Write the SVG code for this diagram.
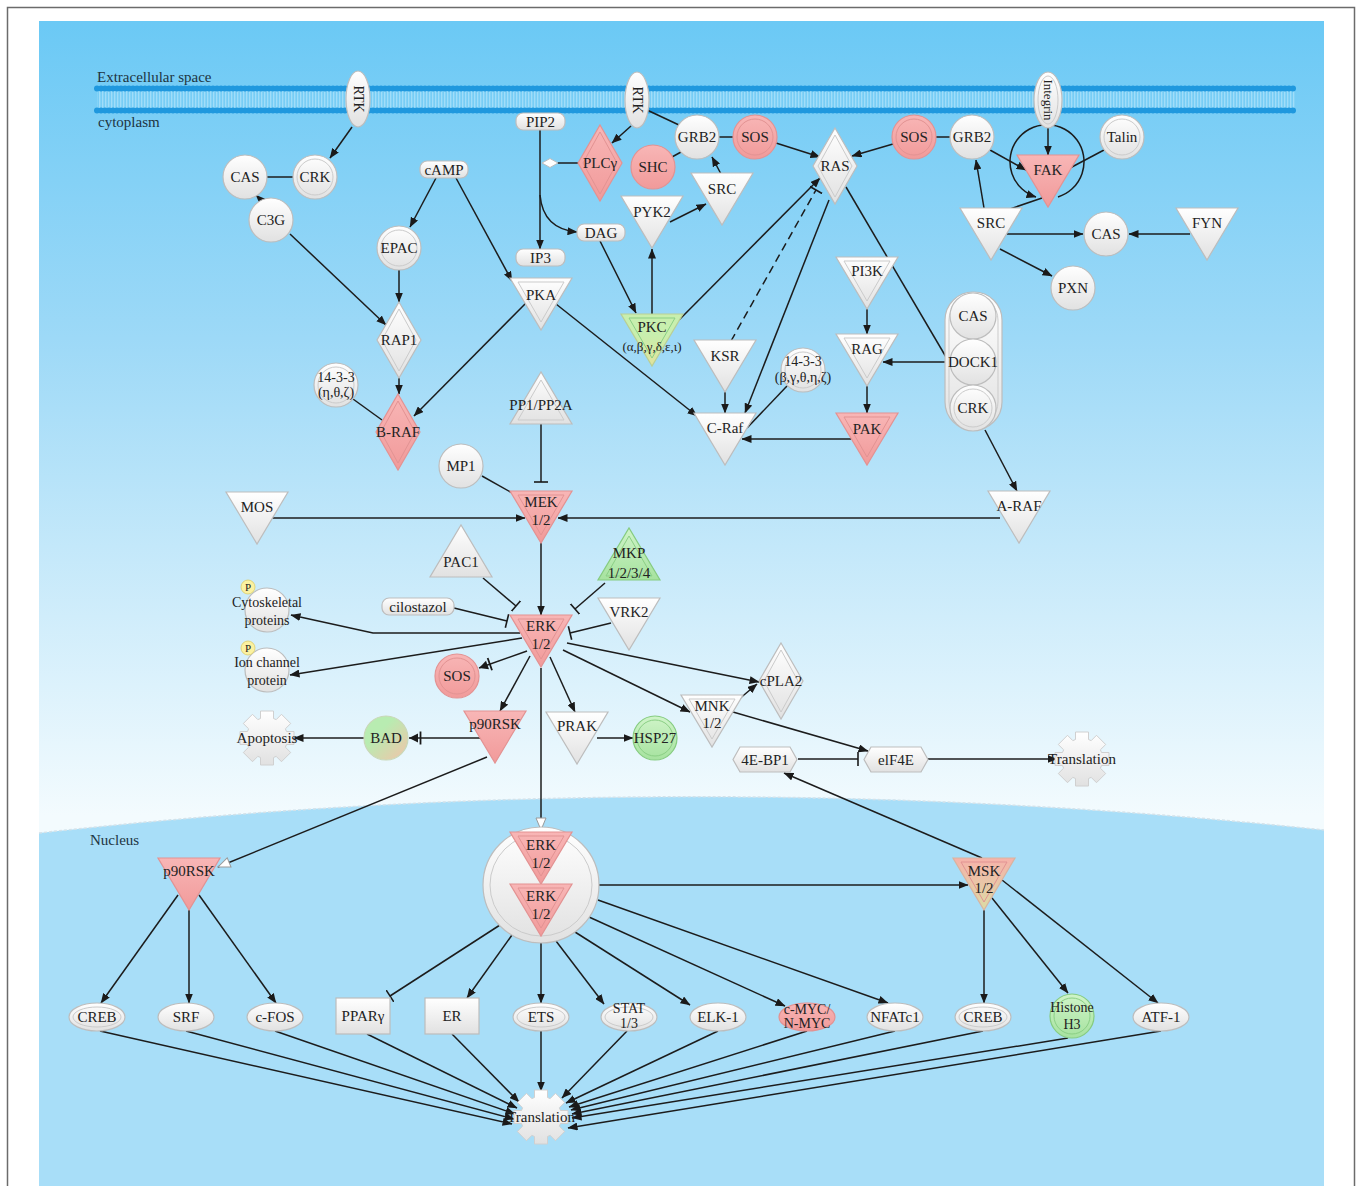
<svg xmlns="http://www.w3.org/2000/svg" width="1357" height="1186" viewBox="0 0 1357 1186">
<defs>
  <linearGradient id="sky" gradientUnits="userSpaceOnUse" x1="0" y1="21" x2="0" y2="815">
    <stop offset="0" stop-color="#6bc9f5"/>
    <stop offset="0.4" stop-color="#9dd9f7"/>
    <stop offset="0.75" stop-color="#d0edfb"/>
    <stop offset="1" stop-color="#f3fbfe"/>
  </linearGradient>
  <linearGradient id="gw" x1="0" y1="0" x2="0" y2="1">
    <stop offset="0" stop-color="#ffffff"/>
    <stop offset="1" stop-color="#e1e1e1"/>
  </linearGradient>
  <linearGradient id="gr" x1="0" y1="0" x2="0" y2="1">
    <stop offset="0" stop-color="#f8b6b6"/>
    <stop offset="1" stop-color="#f19a9a"/>
  </linearGradient>
  <linearGradient id="gg" x1="0" y1="0" x2="0" y2="1">
    <stop offset="0" stop-color="#cff4c8"/>
    <stop offset="1" stop-color="#a6e29f"/>
  </linearGradient>
  <linearGradient id="gbad" x1="0" y1="0" x2="1" y2="1">
    <stop offset="0.35" stop-color="#b8ecb1"/>
    <stop offset="1" stop-color="#f3c2a8"/>
  </linearGradient>
  <linearGradient id="gmsk" x1="0" y1="0" x2="0" y2="1">
    <stop offset="0" stop-color="#f6b2aa"/>
    <stop offset="1" stop-color="#dcdca4"/>
  </linearGradient>
  <linearGradient id="gpkc" x1="0" y1="0" x2="0" y2="1">
    <stop offset="0.4" stop-color="#c8efae"/>
    <stop offset="1" stop-color="#e2e39c"/>
  </linearGradient>
  <pattern id="lip" width="3" height="20" patternUnits="userSpaceOnUse">
    <rect width="1.3" height="20" fill="#b3e4fb" opacity="0.7"/>
  </pattern>

  <!-- shape library, origin = top centre for triangles, centre otherwise -->
  <path id="tri" d="M-31,0 H31 L0,52 Z"/>
  <path id="tri-in" d="M-23,4 H23 L0,44 Z"/>
  <path id="utri" d="M-31,52 H31 L0,0 Z"/>
  <path id="utri-in" d="M-23,48 H23 L0,8 Z"/>
  <path id="dia" d="M0,-38 L22,0 L0,38 L-22,0 Z"/>
  <path id="dia-in" d="M0,-31 L17,0 L0,31 L-17,0 Z"/>
  <path id="hex" d="M-32,0 L-25,-12.5 H25 L32,0 L25,12.5 H-25 Z"/>
  <path id="gear" d="M19.5,-6.5 L27,-6.5 L27,6.5 L19.5,6.5 L18.39,9.19 L23.69,14.49 L14.49,23.69 L9.19,18.39 L6.5,19.5 L6.5,27 L-6.5,27 L-6.5,19.5 L-9.19,18.39 L-14.49,23.69 L-23.69,14.49 L-18.39,9.19 L-19.5,6.5 L-27,6.5 L-27,-6.5 L-19.5,-6.5 L-18.39,-9.19 L-23.69,-14.49 L-14.49,-23.69 L-9.19,-18.39 L-6.5,-19.5 L-6.5,-27 L6.5,-27 L6.5,-19.5 L9.19,-18.39 L14.49,-23.69 L23.69,-14.49 L18.39,-9.19 Z"/>

  <marker id="ah" markerUnits="userSpaceOnUse" markerWidth="10" markerHeight="8" refX="9.5" refY="4" orient="auto" viewBox="0 0 10 8">
    <path d="M0,0 L10,4 L0,8 Z" fill="#1a1a1a"/>
  </marker>
  <marker id="ao" markerUnits="userSpaceOnUse" markerWidth="14" markerHeight="12" refX="13" refY="6" orient="auto" viewBox="0 0 14 12">
    <path d="M1,1 L13,6 L1,11 Z" fill="#ffffff" stroke="#9a9a9a" stroke-width="1"/>
  </marker>
  <marker id="tb" markerUnits="userSpaceOnUse" markerWidth="4" markerHeight="14" refX="2" refY="7" orient="auto" viewBox="0 0 4 14">
    <path d="M2,0 V14" stroke="#1a1a1a" stroke-width="1.6"/>
  </marker>
  <marker id="tr" markerUnits="userSpaceOnUse" markerWidth="14" markerHeight="14" refX="13" refY="7" orient="auto" viewBox="0 0 14 14">
    <path d="M4,2.5 L13,7 L4,11.5 Z" fill="#1a1a1a"/>
    <path d="M1.5,0.5 V13.5" stroke="#1a1a1a" stroke-width="1.8"/>
  </marker>
</defs>
<style>
  .n{fill:url(#gw);stroke:#bdbdbd;stroke-width:1.2}
  .r{fill:url(#gr);stroke:#e39292;stroke-width:1.2}
  .g{fill:url(#gg);stroke:#86cc80;stroke-width:1.2}
  .i{fill:none;stroke:#cbcbcb;stroke-width:1}
  .ir{fill:none;stroke:#e29393;stroke-width:1}
  .ig{fill:none;stroke:#8bcf85;stroke-width:1}
  .gear{fill:url(#gw);stroke:#d0d0d0;stroke-width:1;stroke-linejoin:round}
  .t{font-family:"Liberation Serif","Times New Roman",serif;font-size:15px;fill:#222;text-anchor:middle}
  .s{font-size:14px}
  .xs{font-size:13px}
  .lbl{font-family:"Liberation Serif","Times New Roman",serif;font-size:15px;fill:#1d3441}
  #links path{fill:none;stroke:#1c1c1c;stroke-width:1.5}
  #links .a{marker-end:url(#ah)}
  #links .o{marker-end:url(#ao)}
  #links .b{marker-end:url(#tb)}
  #links .x{marker-end:url(#tr)}
  #links .d{stroke-dasharray:8 5}
  .pb{fill:#fbf1a0;stroke:#dccd6a;stroke-width:0.8}
</style>

<!-- frame and compartments -->
<rect x="7.5" y="7.5" width="1347" height="1200" fill="#ffffff" stroke="#6b6b6b" stroke-width="1.5"/>
<rect x="39" y="21" width="1285" height="1165" fill="url(#sky)"/>
<path d="M39,833 Q681,762 1324,830 L1324,1186 L39,1186 Z" fill="#a8def8"/>
<path d="M39,833 Q681,762 1324,830" fill="none" stroke="#d3e2ea" stroke-width="1.5" stroke-dasharray="3 2"/>

<!-- plasma membrane -->
<g id="membrane">
  <rect x="97" y="90" width="1198" height="19" fill="url(#lip)"/>
  <line x1="97" y1="88.5" x2="1295" y2="88.5" stroke="#1f98de" stroke-width="3.5"/>
  <line x1="97" y1="88.5" x2="1295" y2="88.5" stroke="#1f98de" stroke-width="6" stroke-linecap="round" stroke-dasharray="0 4"/>
  <line x1="97" y1="110.5" x2="1295" y2="110.5" stroke="#1f98de" stroke-width="3.5"/>
  <line x1="97" y1="110.5" x2="1295" y2="110.5" stroke="#1f98de" stroke-width="6" stroke-linecap="round" stroke-dasharray="0 4"/>
</g>
<text class="lbl" x="97" y="82">Extracellular space</text>
<text class="lbl" x="98" y="127">cytoplasm</text>
<text class="lbl" x="90" y="845">Nucleus</text>

<!-- connectors -->
<g id="links">
  <path class="a" d="M352,127 L330,158"/>
  <path d="M267,177 L293,177"/>
  <path class="a" d="M263,202 L256,195"/>
  <path class="a" d="M290,234 L386,325"/>
  <path class="a" d="M436,178 L410,227"/>
  <path class="a" d="M456,178 L512,281"/>
  <path class="a" d="M399,270 L399,302"/>
  <path class="a" d="M399,378 L399,394"/>
  <path d="M353,399 L382,420"/>
  <path class="a" d="M526,303 L414,416"/>
  <path class="a" d="M540,129 L540,249"/>
  <path class="a" d="M540,195 Q543,229 577,232"/>
  <path d="M557,163 L578,163"/>
  <path class="a" d="M631,126 L612,143"/>
  <path d="M647,110 L679,125"/>
  <path d="M719,137 L733,137"/>
  <path d="M681,152 L672,157"/>
  <path class="a" d="M776,143 L820,157"/>
  <path class="a" d="M721,174 L712,157"/>
  <path class="a" d="M670,222 L706,204"/>
  <path class="a" d="M600,241 L636,313"/>
  <path class="a" d="M652,314 L652,249"/>
  <path class="a" d="M679,320 L820,178"/>
  <path class="d b" d="M731,341 L816,190"/>
  <path class="a" d="M725,392 L725,413"/>
  <path class="a" d="M829,200 L745,413"/>
  <path d="M846,187 L946,357"/>
  <path d="M787,386 L747,428"/>
  <path class="a" d="M556,304 L697,416"/>
  <path class="a" d="M867,309 L867,334"/>
  <path class="a" d="M867,386 L867,413"/>
  <path class="a" d="M946,362 L883,362"/>
  <path class="a" d="M851,439 L742,439"/>
  <path class="a" d="M893,144 L852,156"/>
  <path d="M936,137 L950,137"/>
  <path class="a" d="M990,150 L1026,170"/>
  <path class="a" d="M1048,128 L1048,155"/>
  <path d="M1104,150 L1070,168"/>
  <path class="a" d="M984,208 L976,160"/>
  <path d="M1004,211 L1042,198"/>
  <path class="a" d="M1058,197 A37,37 0 1,0 1036,197"/>
  <path class="a" d="M1007,234 L1083,234"/>
  <path class="a" d="M1190,234 L1129,234"/>
  <path class="a" d="M1000,249 L1052,276"/>
  <path class="a" d="M985,430 L1017,491"/>
  <path class="a" d="M1000,518 L558,518"/>
  <path class="a" d="M272,518 L525,518"/>
  <path class="b" d="M541,423 L541,482"/>
  <path d="M482,476 L514,494"/>
  <path class="a" d="M541,543 L541,615"/>
  <path class="b" d="M483,578 L516,606"/>
  <path class="b" d="M454,608 L507,621"/>
  <path class="b" d="M605,583 L575,609"/>
  <path class="b" d="M611,623 L570,633"/>
  <path class="a" d="M520,633 L373,633 L291,615"/>
  <path class="a" d="M522,638 L290,675"/>
  <path class="x" d="M527,651 L479,668"/>
  <path class="a" d="M530,656 L500,711"/>
  <path class="a" d="M550,657 L575,712"/>
  <path class="a" d="M567,643 L759,682"/>
  <path class="a" d="M563,650 L690,712"/>
  <path class="o" d="M541,668 L541,830"/>
  <path class="x" d="M480,738 L409,738"/>
  <path class="a" d="M364,738 L294,738"/>
  <path class="a" d="M597,738 L633,738"/>
  <path class="a" d="M738,700 L757,684"/>
  <path class="a" d="M733,712 L868,751"/>
  <path class="b" d="M798,759 L858,759"/>
  <path class="a" d="M928,759 L1057,759"/>
  <path class="a" d="M982,858 L784,773"/>
  <path class="o" d="M487,757 L218,867"/>
  <path class="a" d="M178,895 L101,1003"/>
  <path class="a" d="M189,910 L189,1003"/>
  <path class="a" d="M199,895 L276,1003"/>
  <path class="a" d="M599,885 L968,885"/>
  <path class="b" d="M500,925 L390,996"/>
  <path class="a" d="M512,935 L467,998"/>
  <path class="a" d="M541,943 L541,1003"/>
  <path class="a" d="M556,941 L604,1004"/>
  <path class="a" d="M575,932 L690,1005"/>
  <path class="a" d="M589,917 L785,1006"/>
  <path class="a" d="M598,900 L888,1003"/>
  <path class="a" d="M984,910 L984,1003"/>
  <path class="a" d="M992,898 L1068,993"/>
  <path class="a" d="M1002,880 L1158,1003"/>
  <path class="a" d="M100,1031 L512,1124"/>
  <path class="a" d="M186,1031 L514,1119"/>
  <path class="a" d="M275,1031 L515,1114"/>
  <path class="a" d="M367,1034 L517,1108"/>
  <path class="a" d="M452,1034 L519,1102"/>
  <path class="a" d="M541,1031 L541,1091"/>
  <path class="a" d="M627,1031 L562,1098"/>
  <path class="a" d="M718,1031 L566,1103"/>
  <path class="a" d="M807,1031 L569,1107"/>
  <path class="a" d="M895,1031 L571,1110"/>
  <path class="a" d="M983,1031 L572,1114"/>
  <path class="a" d="M1068,1038 L572,1118"/>
  <path class="a" d="M1161,1031 L568,1128"/>
</g>

<!-- receptors at the membrane -->
<g id="rtk-1" transform="translate(358,99)"><ellipse rx="12" ry="28" class="n"/><text class="t s" transform="rotate(90)" y="4.5">RTK</text></g>
<g id="rtk-2" transform="translate(637,100)"><ellipse rx="12" ry="28" class="n"/><text class="t s" transform="rotate(90)" y="4.5">RTK</text></g>
<g id="integrin" transform="translate(1048,100)"><ellipse rx="14" ry="28" class="n"/><ellipse rx="10" ry="24" class="i"/><text class="t" style="font-size:13px" transform="rotate(90)" y="4.5">Integrin</text></g>

<!-- left upper branch -->
<g id="cas-1" transform="translate(245,177)"><circle r="22" class="n"/><text class="t" y="5">CAS</text></g>
<g id="crk-1" transform="translate(315,177)"><circle r="22" class="n"/><circle r="18" class="i"/><text class="t" y="5">CRK</text></g>
<g id="c3g" transform="translate(271,220)"><circle r="22" class="n"/><text class="t" y="5">C3G</text></g>
<g id="camp"><rect x="420" y="161" width="48" height="17" rx="7" class="n"/><text class="t" x="444" y="174.5">cAMP</text></g>
<g id="epac" transform="translate(399,248)"><circle r="22" class="n"/><circle r="18" class="i"/><text class="t" y="5">EPAC</text></g>
<g id="rap1" transform="translate(399,340)"><use href="#dia" class="n"/><use href="#dia-in" class="i"/><text class="t" y="5">RAP1</text></g>
<g id="p1433-a" transform="translate(336,385)"><circle r="22" class="n"/><circle r="18" class="i"/><text class="t s" y="-3">14-3-3</text><text class="t s" y="12">(η,θ,ζ)</text></g>
<g id="b-raf" transform="translate(398,432)"><use href="#dia" class="r"/><use href="#dia-in" class="ir"/><text class="t" y="5">B-RAF</text></g>

<!-- PLC / PKC / RAS area -->
<g id="pip2"><rect x="516" y="113" width="49" height="17" rx="7" class="n"/><text class="t" x="540.5" y="126.5">PIP2</text></g>
<g id="ip3"><rect x="516" y="249" width="49" height="17" rx="7" class="n"/><text class="t" x="540.5" y="262.5">IP3</text></g>
<g id="dag"><rect x="577" y="224" width="48" height="17" rx="7" class="n"/><text class="t" x="601" y="237.5">DAG</text></g>
<g id="pip2-cleavage"><path d="M542,163 L550,158.5 L558,163 L550,167.5 Z" fill="#ffffff" stroke="#bdbdbd"/></g>
<g id="plcg" transform="translate(600,163)"><use href="#dia" class="r"/><use href="#dia-in" class="ir"/><text class="t" y="5">PLCγ</text></g>
<g id="shc" transform="translate(653,167)"><circle r="22" class="r"/><text class="t" y="5">SHC</text></g>
<g id="grb2-1" transform="translate(697,137)"><circle r="22" class="n"/><text class="t" y="5">GRB2</text></g>
<g id="sos-1" transform="translate(755,137)"><circle r="22" class="r"/><circle r="18" class="ir"/><text class="t" y="5">SOS</text></g>
<g id="src-1" transform="translate(722,173)"><use href="#tri" class="n"/><text class="t" y="21">SRC</text></g>
<g id="pyk2" transform="translate(652,196)"><use href="#tri" class="n"/><text class="t" y="21">PYK2</text></g>
<g id="pkc" transform="translate(652,314)"><use href="#tri" style="fill:url(#gpkc);stroke:#b9cf95;stroke-width:1.2"/><use href="#tri-in" class="ig"/><text class="t" y="18">PKC</text><text class="t xs" y="37">(α,β,γ,δ,ε,ι)</text></g>
<g id="ras" transform="translate(835,166)"><use href="#dia" class="n"/><use href="#dia-in" class="i"/><text class="t" y="5">RAS</text></g>
<g id="pka" transform="translate(541,278)"><use href="#tri" class="n"/><use href="#tri-in" class="i"/><text class="t" y="22">PKA</text></g>
<g id="ksr" transform="translate(725,340)"><use href="#tri" class="n"/><text class="t" y="21">KSR</text></g>
<g id="c-raf" transform="translate(725,413)"><use href="#tri" class="n"/><text class="t" y="20">C-Raf</text></g>
<g id="p1433-b" transform="translate(803,370)"><circle r="22" class="n"/><circle r="18" class="i"/><text class="t s" y="-4">14-3-3</text><text class="t s" y="12">(β,γ,θ,η,ζ)</text></g>
<g id="pi3k" transform="translate(867,257)"><use href="#tri" class="n"/><use href="#tri-in" class="i"/><text class="t" y="19">PI3K</text></g>
<g id="rag" transform="translate(867,334)"><use href="#tri" class="n"/><use href="#tri-in" class="i"/><text class="t" y="20">RAG</text></g>
<g id="pak" transform="translate(867,413)"><use href="#tri" class="r"/><use href="#tri-in" class="ir"/><text class="t" y="21">PAK</text></g>
<g id="pp1-pp2a" transform="translate(541,372)"><use href="#utri" class="n"/><use href="#utri-in" class="i"/><text class="t" y="38">PP1/PP2A</text></g>

<!-- integrin / FAK area -->
<g id="sos-2" transform="translate(914,137)"><circle r="22" class="r"/><circle r="18" class="ir"/><text class="t" y="5">SOS</text></g>
<g id="grb2-2" transform="translate(972,137)"><circle r="22" class="n"/><text class="t" y="5">GRB2</text></g>
<g id="fak" transform="translate(1048,155)"><use href="#tri" class="r"/><text class="t" y="20">FAK</text></g>
<g id="talin" transform="translate(1122,137)"><circle r="22" class="n"/><circle r="18" class="i"/><text class="t" y="5">Talin</text></g>
<g id="src-2" transform="translate(991,208)"><use href="#tri" class="n"/><text class="t" y="20">SRC</text></g>
<g id="cas-2" transform="translate(1106,234)"><circle r="22" class="n"/><text class="t" y="5">CAS</text></g>
<g id="fyn" transform="translate(1207,208)"><use href="#tri" class="n"/><text class="t" y="20">FYN</text></g>
<g id="pxn" transform="translate(1073,288)"><circle r="22" class="n"/><text class="t" y="5">PXN</text></g>
<g id="cas-dock1-crk">
  <rect x="945" y="292" width="57" height="138" rx="28" class="n"/>
  <rect x="949" y="296" width="49" height="130" rx="24" class="i"/>
  <circle cx="973" cy="316" r="23" class="n"/><text class="t" x="973" y="321">CAS</text>
  <circle cx="973" cy="362" r="23" class="n"/><text class="t" x="973" y="367">DOCK1</text>
  <circle cx="973" cy="408" r="23" class="n"/><circle cx="973" cy="408" r="19" class="i"/><text class="t" x="973" y="413">CRK</text>
</g>
<g id="a-raf" transform="translate(1019,491)"><use href="#tri" class="n"/><text class="t" y="20">A-RAF</text></g>

<!-- MEK / ERK module -->
<g id="mos" transform="translate(257,492)"><use href="#tri" class="n"/><text class="t" y="20">MOS</text></g>
<g id="mp1" transform="translate(461,466)"><circle r="22" class="n"/><text class="t" y="5">MP1</text></g>
<g id="mek" transform="translate(541,491)"><use href="#tri" class="r"/><use href="#tri-in" class="ir"/><text class="t" y="16">MEK</text><text class="t" y="34">1/2</text></g>
<g id="pac1" transform="translate(461,525)"><use href="#utri" class="n"/><text class="t" y="42">PAC1</text></g>
<g id="cilostazol"><rect x="382" y="598" width="72" height="17" rx="7" class="n"/><text class="t" x="418" y="611.5">cilostazol</text></g>
<g id="mkp" transform="translate(629,528)"><use href="#utri" class="g"/><use href="#utri-in" class="ig"/><text class="t" y="30">MKP</text><text class="t" y="50">1/2/3/4</text></g>
<g id="vrk2" transform="translate(629,598)"><use href="#tri" class="n"/><text class="t" y="19">VRK2</text></g>
<g id="erk" transform="translate(541,615)"><use href="#tri" class="r"/><use href="#tri-in" class="ir"/><text class="t" y="16">ERK</text><text class="t" y="34">1/2</text></g>
<g id="cytoskeletal" transform="translate(267,610)"><circle r="22" class="n"/><text class="t s" y="-3">Cytoskeletal</text><text class="t s" y="15">proteins</text><circle cx="-19" cy="-23" r="7" class="pb"/><text class="t" style="font-size:11px" x="-19" y="-19">P</text></g>
<g id="ion-channel" transform="translate(267,670)"><circle r="22" class="n"/><text class="t s" y="-3">Ion channel</text><text class="t s" y="15">protein</text><circle cx="-19" cy="-22" r="7" class="pb"/><text class="t" style="font-size:11px" x="-19" y="-18">P</text></g>
<g id="sos-3" transform="translate(457,676)"><circle r="22" class="r"/><circle r="18" class="ir"/><text class="t" y="5">SOS</text></g>
<g id="p90rsk-1" transform="translate(495,711)"><use href="#tri" class="r"/><text class="t" y="18">p90RSK</text></g>
<g id="prak" transform="translate(577,712)"><use href="#tri" class="n"/><text class="t" y="19">PRAK</text></g>
<g id="hsp27" transform="translate(655,738)"><circle r="22" class="g"/><circle r="18" class="ig"/><text class="t" y="5">HSP27</text></g>
<g id="bad" transform="translate(386,738)"><circle r="22" style="fill:url(#gbad);stroke:#c9d8b8;stroke-width:1.2"/><text class="t" y="5">BAD</text></g>
<g id="apoptosis" transform="translate(267,738)"><use href="#gear" class="gear"/><text class="t" y="5">Apoptosis</text></g>
<g id="cpla2" transform="translate(781,681)"><use href="#dia" class="n"/><use href="#dia-in" class="i"/><text class="t" y="5">cPLA2</text></g>
<g id="mnk" transform="translate(712,695)"><use href="#tri" class="n"/><use href="#tri-in" class="i"/><text class="t" y="16">MNK</text><text class="t" y="33">1/2</text></g>
<g id="4e-bp1" transform="translate(765,759.5)"><use href="#hex" class="n"/><text class="t" y="5">4E-BP1</text></g>
<g id="elf4e" transform="translate(896,759.5)"><use href="#hex" class="n"/><text class="t" y="5">elF4E</text></g>
<g id="translation-1" transform="translate(1082,759)"><use href="#gear" class="gear"/><text class="t" y="5">Translation</text></g>

<!-- nucleus -->
<g id="p90rsk-2" transform="translate(189,858)"><use href="#tri" class="r"/><text class="t" y="18">p90RSK</text></g>
<g id="erk-nuclear" transform="translate(541,885)">
  <circle r="58" class="n"/><circle r="51" class="i"/>
  <g transform="translate(0,-53)"><use href="#tri" class="r"/><use href="#tri-in" class="ir"/><text class="t" y="18">ERK</text><text class="t" y="36">1/2</text></g>
  <g transform="translate(0,-1)"><use href="#tri" class="r"/><use href="#tri-in" class="ir"/><text class="t" y="17">ERK</text><text class="t" y="35">1/2</text></g>
</g>
<g id="msk" transform="translate(984,858)"><use href="#tri" style="fill:url(#gmsk);stroke:#d9b3a0;stroke-width:1.2"/><use href="#tri-in" class="ir"/><text class="t" y="18">MSK</text><text class="t" y="35">1/2</text></g>

<g id="creb-1" transform="translate(97,1017)"><ellipse rx="28" ry="14" class="n"/><ellipse rx="24" ry="10" class="i"/><text class="t" y="5">CREB</text></g>
<g id="srf" transform="translate(186,1017)"><ellipse rx="28" ry="14" class="n"/><text class="t" y="5">SRF</text></g>
<g id="c-fos" transform="translate(275,1017)"><ellipse rx="28" ry="14" class="n"/><text class="t" y="5">c-FOS</text></g>
<g id="ppar-gamma"><rect x="336" y="998" width="54" height="36" class="n"/><text class="t" x="363" y="1021">PPARγ</text></g>
<g id="er"><rect x="425" y="998" width="54" height="36" class="n"/><text class="t" x="452" y="1021">ER</text></g>
<g id="ets" transform="translate(541,1017)"><ellipse rx="28" ry="14" class="n"/><ellipse rx="24" ry="10" class="i"/><text class="t" y="5">ETS</text></g>
<g id="stat" transform="translate(629,1017)"><ellipse rx="28" ry="14" class="n"/><ellipse rx="24" ry="10" class="i"/><text class="t s" y="-4">STAT</text><text class="t s" y="11">1/3</text></g>
<g id="elk-1" transform="translate(718,1017)"><ellipse rx="28" ry="14" class="n"/><text class="t" y="5">ELK-1</text></g>
<g id="myc" transform="translate(807,1017)"><ellipse rx="28" ry="14" class="r"/><text class="t s" y="-3">c-MYC/</text><text class="t s" y="11">N-MYC</text></g>
<g id="nfatc1" transform="translate(895,1017)"><ellipse rx="28" ry="14" class="n"/><text class="t" y="5">NFATc1</text></g>
<g id="creb-2" transform="translate(983,1017)"><ellipse rx="28" ry="14" class="n"/><ellipse rx="24" ry="10" class="i"/><text class="t" y="5">CREB</text></g>
<g id="histone-h3" transform="translate(1072,1016)"><circle r="22" class="g"/><circle r="18" class="ig"/><text class="t s" y="-4">Histone</text><text class="t s" y="13">H3</text></g>
<g id="atf-1" transform="translate(1161,1017)"><ellipse rx="28" ry="14" class="n"/><text class="t" y="5">ATF-1</text></g>
<g id="translation-2" transform="translate(541,1117)"><use href="#gear" class="gear"/><text class="t" y="5">Translation</text></g>
</svg>
